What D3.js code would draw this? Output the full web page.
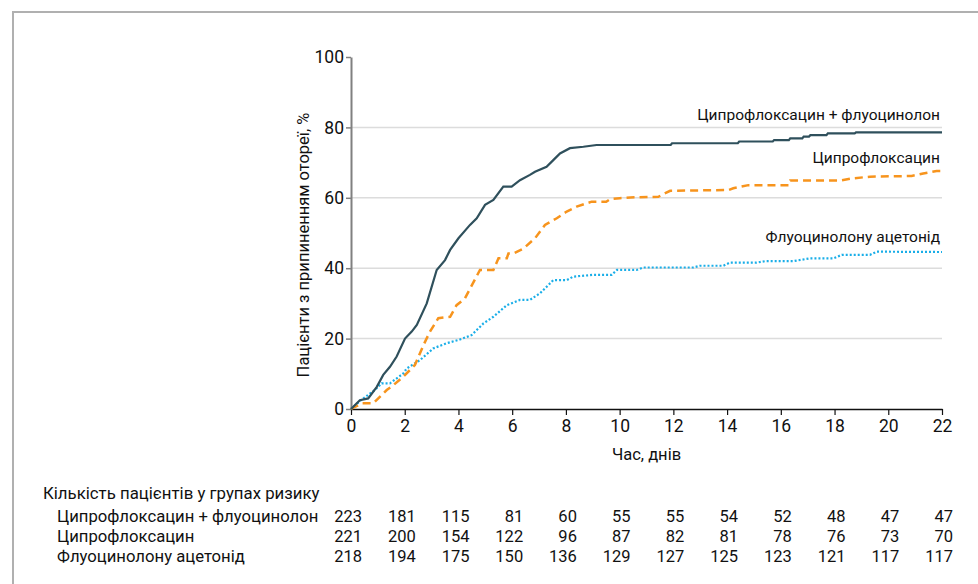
<!DOCTYPE html>
<html lang="uk">
<head>
  <meta charset="utf-8">
  <title>Kaplan-Meier</title>
  <style>
    body { margin: 0; background: #fff; }
    svg text { font-family: Roboto, 'Noto Sans', sans-serif; fill: #111; }
  </style>
  <script src="https://d3js.org/d3.v7.min.js"></script>
</head>
<body>
<svg id="chart" width="978" height="584"></svg>
<script>
// series: [day, %]
const comboData = [[0,0],[0.33,2.5],[0.64,3],[0.96,6.3],[1.2,9.7],[1.45,12],[1.7,14.9],[2.01,20],[2.26,22],[2.45,23.9],[2.82,30],[3.19,39.5],[3.5,42.3],[3.69,45.2],[4.0,48.5],[4.43,52.3],[4.68,54.2],[4.99,58],[5.3,59.4],[5.67,63.2],[5.98,63.2],[6.29,65],[6.66,66.5],[6.85,67.4],[7.28,68.8],[7.53,70.7],[7.78,72.6],[8.15,74.1],[8.65,74.5],[9.14,75],[11.9,75],[11.95,75.5],[14.4,75.5],[14.45,76],[15.7,76],[15.75,76.4],[16.3,76.4],[16.35,76.9],[16.8,76.9],[16.85,77.4],[17.05,77.4],[17.1,77.8],[17.7,77.8],[17.75,78.3],[18.75,78.3],[18.8,78.6],[22,78.6]];
const ciproData = [[0,0],[0.4,1.6],[0.83,1.6],[1.33,5.4],[1.58,6.8],[1.95,9.2],[2.38,12.5],[2.7,18.2],[2.94,22],[3.25,25.8],[3.69,26.2],[3.93,29.5],[4.24,31.4],[4.8,39.5],[5.3,39.5],[5.49,42.8],[5.8,42.8],[5.86,44.2],[6.05,44.2],[6.42,45.6],[6.85,48.5],[7.22,52.3],[7.66,54.2],[8.03,56.1],[8.4,57.5],[8.96,58.9],[9.5,58.9],[9.64,59.6],[10.0,59.9],[10.4,60.1],[11.44,60.3],[11.88,62],[14.05,62.2],[14.23,62.7],[14.79,63.6],[16.3,63.6],[16.35,64.9],[18.2,64.9],[18.64,65.5],[19.32,66],[20.87,66.2],[21.3,66.9],[21.8,67.6],[22,67.6]];
const fluoData = [[0,0],[0.37,2.5],[0.89,5.4],[1.14,7.3],[1.45,7.3],[1.95,10.1],[2.07,11.5],[2.57,13.9],[3.06,17.2],[3.56,18.7],[4.0,19.6],[4.49,21],[4.93,24.3],[5.3,26.2],[5.8,29.5],[6.29,31],[6.66,31],[7.04,32.9],[7.53,36.6],[8.03,36.6],[8.27,37.6],[9.0,38.1],[9.7,38.1],[9.9,39.5],[10.63,39.5],[10.88,40.2],[12.74,40.2],[12.99,40.7],[13.86,40.7],[14.11,41.6],[15.1,41.6],[15.41,42],[16.47,42],[17.09,42.8],[17.96,42.8],[18.27,43.8],[19.32,43.8],[19.57,44.7],[22,44.6]];

const seriesNames = ["Ципрофлоксацин + флуоцинолон", "Ципрофлоксацин", "Флуоцинолону ацетонід"];
const xTicks = [0,2,4,6,8,10,12,14,16,18,20,22];
const yTicks = [0,20,40,60,80,100];
const gridTicks = [20,40,60,80];

// patients at risk, one value per x tick
const riskTitle = "Кількість пацієнтів у групах ризику";
const riskCombo = [223,181,115,81,60,55,55,54,52,48,47,47];
const riskCipro = [221,200,154,122,96,87,82,81,78,76,73,70];
const riskFluo = [218,194,175,150,136,129,127,125,123,121,117,117];

const svg = d3.select("#chart");
const m = {left: 351, top: 57, right: 36, bottom: 175};
const W = 978 - m.left - m.right, H = 584 - m.top - m.bottom;

// frame edge, top and left only
svg.append("path").attr("d", "M13,584V12H978")
  .attr("fill", "none").attr("stroke", "#b0b0b0").attr("stroke-width", 2);

const x = d3.scaleLinear().domain([0, 22]).range([0, W]);
const y = d3.scaleLinear().domain([0, 100]).range([H, 0]);

const g = svg.append("g").attr("transform", `translate(${m.left},${m.top})`);

g.selectAll(".grid").data(gridTicks).join("line")
  .attr("x1", 0).attr("x2", W)
  .attr("y1", d => y(d)).attr("y2", d => y(d))
  .attr("stroke", "#dcdcdc").attr("stroke-width", 1.5);

const yAxis = g.append("g").call(d3.axisLeft(y).tickValues(yTicks).tickSize(5).tickPadding(2).tickSizeOuter(0));
yAxis.select(".domain").attr("stroke", "#808080").attr("stroke-width", 2);
yAxis.selectAll(".tick line").attr("stroke", "#808080").attr("stroke-width", 1.5);
yAxis.selectAll("text").attr("font-size", 17.5);

const xAxis = g.append("g").attr("transform", `translate(0,${H})`)
  .call(d3.axisBottom(x).tickValues(xTicks).tickSize(6).tickPadding(5).tickSizeOuter(0));
xAxis.select(".domain").attr("stroke", "#111").attr("stroke-width", 1.5);
xAxis.selectAll(".tick line").attr("stroke", "#111").attr("stroke-width", 1.2);
xAxis.selectAll("text").attr("font-size", 17.5);
svg.selectAll(".tick text").attr("font-family", null).attr("fill", "#111");

const line = d3.line().x(d => x(d[0])).y(d => y(d[1]));

g.append("path").datum(fluoData).attr("d", line)
  .attr("fill", "none").attr("stroke", "#1aaee8").attr("stroke-width", 2.2)
  .attr("stroke-dasharray", "2,2");
g.append("path").datum(ciproData).attr("d", line)
  .attr("fill", "none").attr("stroke", "#f7941d").attr("stroke-width", 2.5)
  .attr("stroke-dasharray", "8,5");
g.append("path").datum(comboData).attr("d", line)
  .attr("fill", "none").attr("stroke", "#2f505c").attr("stroke-width", 2.2);

// series labels on the right, above each curve's end
const seriesEnds = [comboData, ciproData, fluoData].map(s => s[s.length - 1][1]);
const labelGap = [12, 8, 10];
g.selectAll(".slabel").data(seriesNames).join("text")
  .attr("x", W - 2).attr("y", (d, i) => y(seriesEnds[i]) - labelGap[i])
  .attr("text-anchor", "end").attr("font-size", 15.5).text(d => d);

// axis titles
svg.append("text").attr("x", m.left + W / 2).attr("y", 460)
  .attr("text-anchor", "middle").attr("font-size", 16.5).text("Час, днів");
svg.append("text").attr("transform", `translate(309,${m.top + H / 2 + 12}) rotate(-90)`)
  .attr("text-anchor", "middle").attr("font-size", 16.5).text("Пацієнти з припиненням отореї, %");

// risk table
svg.append("text").attr("x", 43).attr("y", 499).attr("font-size", 16.8).text(riskTitle);
const riskRows = [riskCombo, riskCipro, riskFluo];
riskRows.forEach((row, r) => {
  const by = 522 + r * 20;
  svg.append("text").attr("x", 57).attr("y", by).attr("font-size", 16.7).text(seriesNames[r]);
  svg.selectAll(".risk" + r).data(row).join("text")
    .attr("x", (d, i) => m.left + x(xTicks[i]) + 11).attr("y", by)
    .attr("text-anchor", "end").attr("font-size", 16.5).text(d => d);
});
</script>
</body>
</html>
